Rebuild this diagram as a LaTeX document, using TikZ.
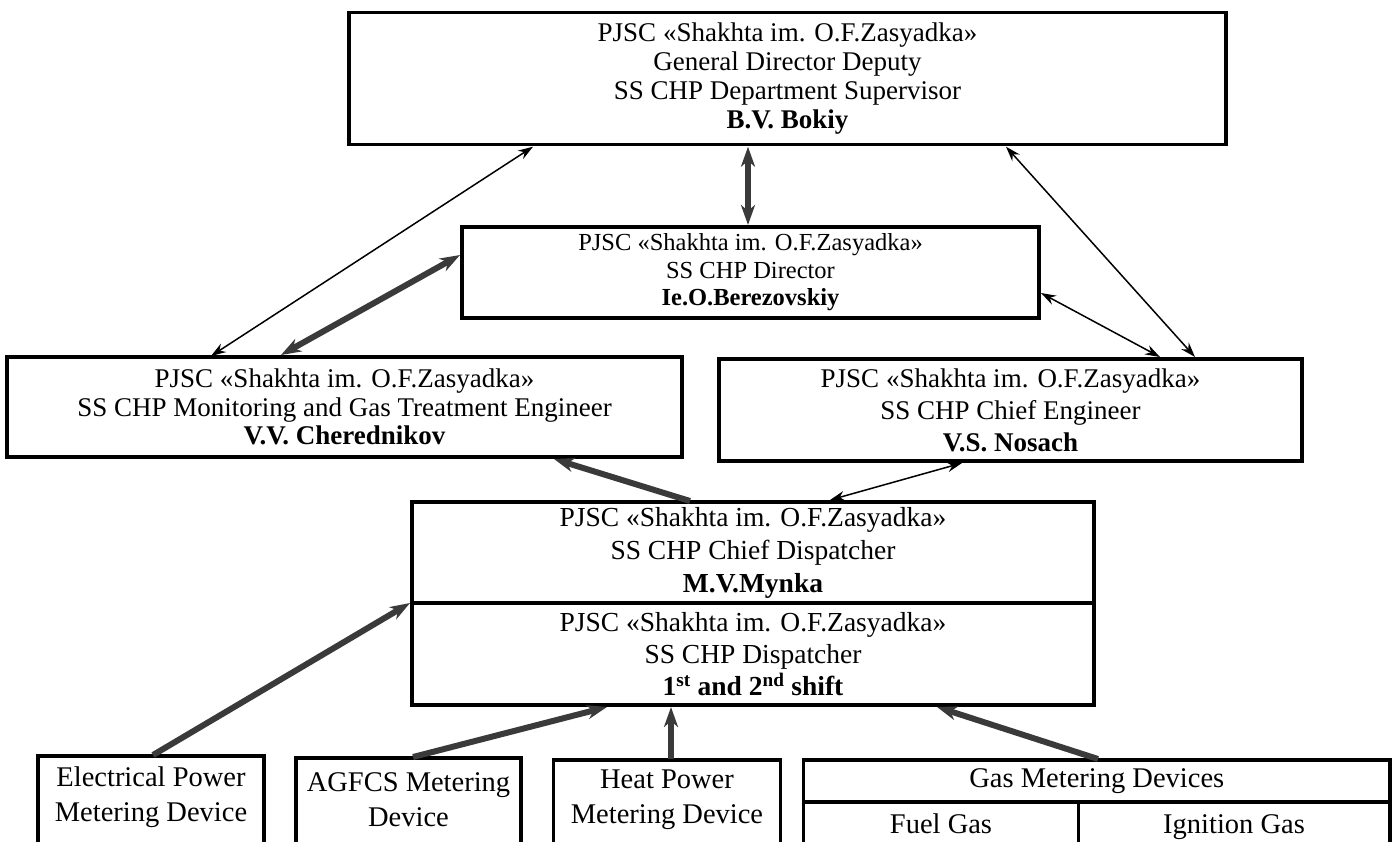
\documentclass[tikz,border=0pt]{standalone}
\usepackage{fontspec}
\setmainfont{Liberation Serif}
\usetikzlibrary{arrows.meta,calc}
\definecolor{arrowgray}{HTML}{3A3A3A}
\tikzset{
  box/.style={draw=black, line width=3.5pt, rectangle, inner sep=0pt, outer sep=0pt, align=center, anchor=north west, font=\fontsize{27}{29}\selectfont},
  label/.style={inner sep=0pt, align=center, font=\fontsize{28.5}{35}\selectfont},
  thinarrow/.style={line width=1.5pt, {Stealth[length=15pt,width=10pt,inset=5pt]}-{Stealth[length=15pt,width=10pt,inset=5pt]}},
  thickboth/.style={draw=arrowgray, line width=6pt, {Stealth[length=20pt,width=14pt,inset=6pt]}-{Stealth[length=20pt,width=14pt,inset=6pt]}},
  thickone/.style={draw=arrowgray, line width=6pt, -{Stealth[length=20pt,width=14pt,inset=6pt]}},
}
\begin{document}
\begin{tikzpicture}[x=1pt,y=-1pt]
\useasboundingbox (0,0) rectangle (1396,841);
% boxes
\node[box, minimum width=877pt, minimum height=132pt, font=\fontsize{27}{29}\selectfont] (top) at (349,12.7)
  {PJSC «Shakhta im. O.F.Zasyadka»\\General Director Deputy\\SS CHP Department Supervisor\\\textbf{B.V. Bokiy}};
\node[box, minimum width=577pt, minimum height=91pt, font=\fontsize{24.5}{27.5}\selectfont] (dir) at (462,227)
  {PJSC «Shakhta im. O.F.Zasyadka»\\SS CHP Director\\\textbf{Ie.O.Berezovskiy}};
\node[box, minimum width=675pt, minimum height=100pt, font=\fontsize{27}{28.5}\selectfont] (mon) at (7,357)
  {PJSC «Shakhta im. O.F.Zasyadka»\\SS CHP Monitoring and Gas Treatment Engineer\\\textbf{V.V. Cherednikov}};
\node[box, minimum width=583pt, minimum height=102pt, font=\fontsize{27}{32}\selectfont] (eng) at (719,359)
  {PJSC «Shakhta im. O.F.Zasyadka»\\SS CHP Chief Engineer\\\textbf{V.S. Nosach}};
\node[box, minimum width=682pt, minimum height=101pt, font=\fontsize{27.5}{33}\selectfont] (chief) at (412,502)
  {PJSC «Shakhta im. O.F.Zasyadka»\\SS CHP Chief Dispatcher\\\textbf{M.V.Mynka}};
\node[box, minimum width=682pt, minimum height=102pt, font=\fontsize{27.5}{32}\selectfont] (disp) at (412,603)
  {PJSC «Shakhta im. O.F.Zasyadka»\\SS CHP Dispatcher\\\textbf{1\textsuperscript{st} and 2\textsuperscript{nd} shift}};
% bottom boxes (cut off by the page edge)
\node[box, minimum width=226pt, minimum height=130pt] (elec) at (38,756) {};
\node[label] (elect) at (151,797) {Electrical Power\\Metering Device};
\node[box, minimum width=225pt, minimum height=130pt] (agfcs) at (296,758) {};
\node[label] (agfcst) at (408.5,800) {AGFCS Metering\\Device};
\node[box, minimum width=227pt, minimum height=130pt] (heat) at (553.6,760) {};
\node[label] (heatt) at (667,800) {Heat Power\\Metering Device};
\node[box, minimum width=586.4pt, minimum height=42pt, font=\fontsize{28.5}{35}\selectfont] (gas) at (803.6,760) {Gas Metering Devices};
\node[box, minimum width=275pt, minimum height=110pt] (fuel) at (803.6,802) {};
\node[box, minimum width=311.4pt, minimum height=110pt] (ign) at (1078.6,802) {};
\node[label, anchor=base] (fuelt) at (941,833) {Fuel Gas};
\node[label, anchor=base] (ignt) at (1234,833) {Ignition Gas};
% connectors
\draw[thinarrow] ($(mon.north west)+(204,-1)$) -- ($(top.south west)+(184,2)$);
\draw[thickboth] ($(mon.north west)+(274,-2)$) -- ($(dir.north west)+(-2,28)$);
\draw[thickboth] ($(top.south west)+(399,2)$) -- ($(dir.north west)+(286,-2)$);
\draw[thinarrow] ($(top.south west)+(657,2)$) -- ($(eng.north west)+(476,-2)$);
\draw[thinarrow] ($(dir.north east)+(2,66)$) -- ($(eng.north west)+(441,-2)$);
\draw[thickone] ($(chief.north west)+(278,-1)$) -- ($(mon.south west)+(547,2)$);
\draw[thinarrow] ($(chief.north west)+(418,-2)$) -- ($(eng.south west)+(243,2)$);
\draw[thickone] ($(elec.north west)+(115,-1)$) -- ($(disp.north west)+(-2,0)$);
\draw[thickone] ($(agfcs.north west)+(117,-1)$) -- ($(disp.south west)+(195,2)$);
\draw[thickone] ($(heat.north west)+(117.4,-1)$) -- ($(disp.south west)+(259,2)$);
\draw[thickone] ($(gas.north west)+(294.4,-1)$) -- ($(disp.south west)+(525,2)$);
\end{tikzpicture}
\end{document}
